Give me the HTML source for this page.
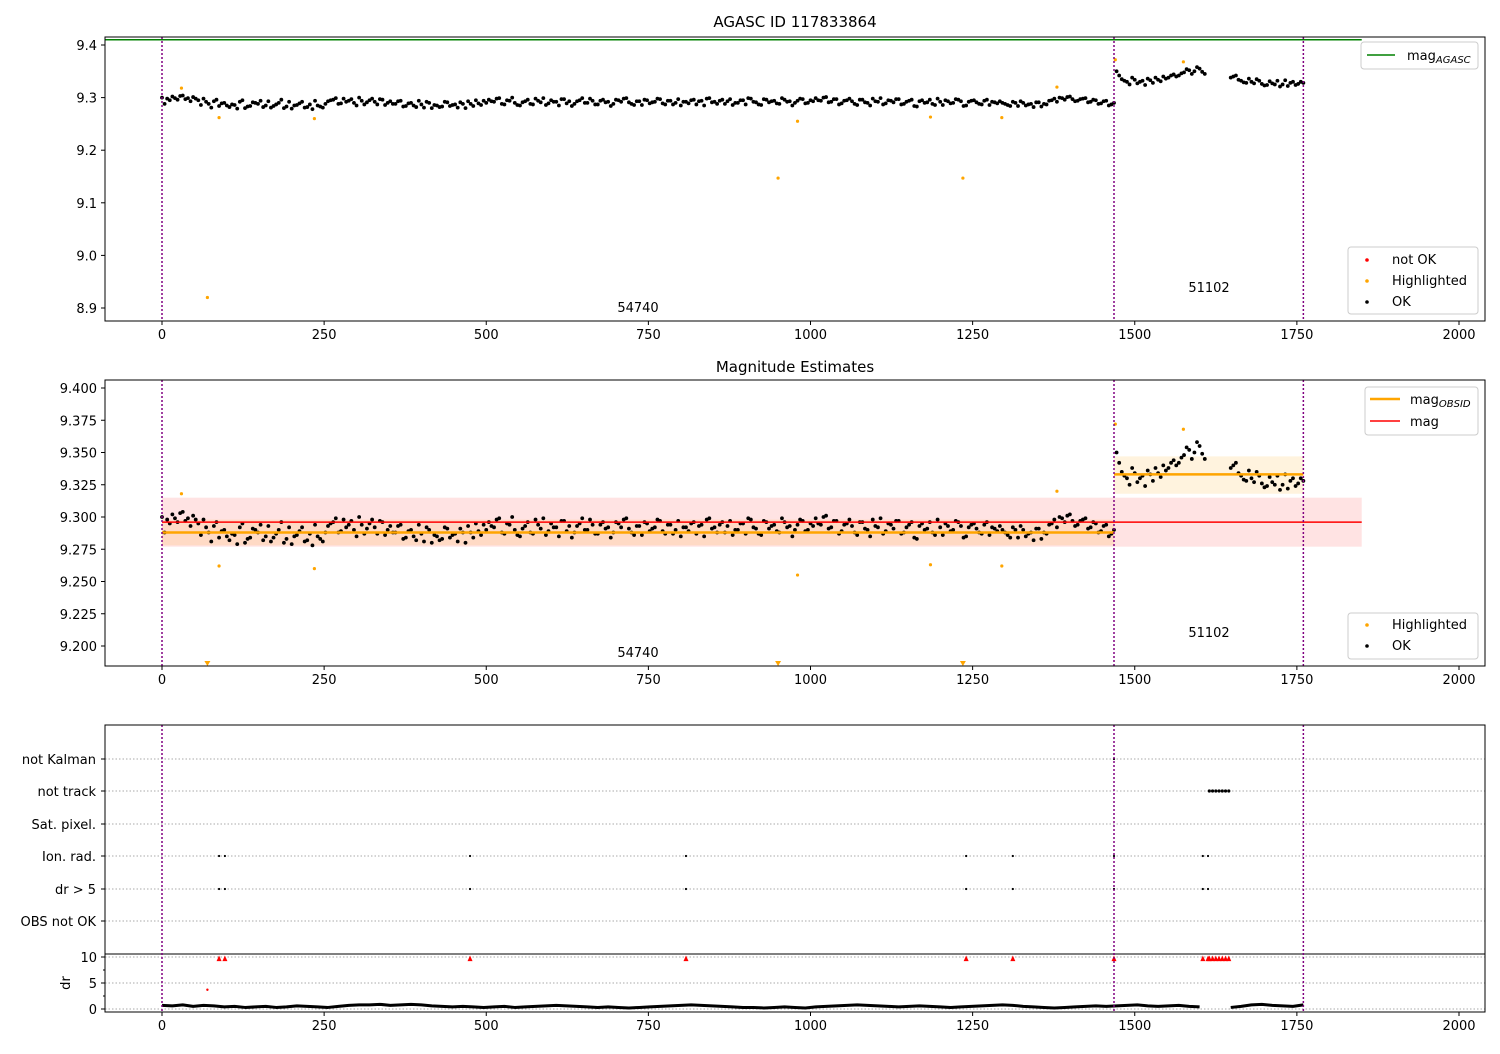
<!DOCTYPE html>
<html><head><meta charset="utf-8">
<style>
body{margin:0;background:#fff;font-family:"DejaVu Sans","Liberation Sans",sans-serif;}
svg text{font-family:"DejaVu Sans","Liberation Sans",sans-serif;font-size:13px;fill:#000;}
</style></head>
<body>
<svg id="chart" width="1500" height="1050" xmlns="http://www.w3.org/2000/svg"></svg>
<script>
// ---- data ----
const seg1Offsets = [10,8,12,6,14,9,11,5,8,-2,3,-6,0,-8,-4,2,-10,-6,0,4,-5,-9,-3,6,-7,-11,-4,2,-8,-12,-5,-9,3,6,-2,8,4,0,10,-3,5,2,7,-4,3,-2,4,-6,0,-8,-3,2,-10,-5,-7,1,-4,-9,-2,3,-6,-1,4,6,2,9,-3,4,0,-5,3,-2,8,1,-4,5,2,7,-1,-6,3,9,0,4,-3,6,2,-2,5,8,1,-4,3,6,-1,2,7,-3,4,0,-5,2,5,-3,4,8,1,-2,6,3,-4,0,5,9,2,-3,7,1,4,-2,6,3,0,8,-1,5,9,4,11,2,7,-1,5,3,-4,6,0,8,2,-3,5,1,7,-2,4,-6,3,0,6,-4,2,5,-1,7,3,-5,4,1,-3,6,2,-1,0,-4,2,-6,0,-3,-8,1,-2,4,8,10,6,12,3,7,9,2,5,-1,4,-3];
const seg1bOffsets = [-2,5,9,13,7,3,8,-4,2,-9,6,-1,-5,-3,-11,5,-7,1,-2,-8,3,-6,0,-10,2,-5,-1,-9,-3,4,-7,-2,5,9,-1,2,7,-5,4,1,8,-3,6,0,-2,3,-7,-1,-5,4,-9,0,-4,-8,2,-6,-3,1,-10,-2,5,-4,0,3,8,-2,5,10,-4,1,6,-3,4,9,-1,2,-5,7,3,-2,5,0,8,-3,4,1,-6,6,2,9,-2,3,-4,5,1,8,-1,4,-3,7,2,-1,6,3,-5,9,2,4,-2,7,0,5,-3,8,1,-4,6,3,-1,9,2,-5,4,7,0,3,5,10,1,7,-3,4,8,-2,6,1,-5,3,9,-1,4,7,-3,2,6,-7,5,1,-2,8,-4,3,0,6,-6,2,5,-2,4,-4,1,3,-2,-6,0,3,-5,-2,1,-7,-3,5,2,9,11,7,4,8,1,6,-2,3,-5,0];
const seg2aOffsets = [20,5,0,8,-3,2,6,-2,4,10,8,14,12,18,22,20,25,15];
const seg2abOffsets = [12,2,-5,4,0,-6,3,8,1,6,12,10,16,24,15,28,19];
const seg2bOffsets = [8,12,2,-2,0,5,-4,-6,-3,2,-5,-8,0,-4,-2];
const seg2bbOffsets = [10,4,-1,6,-3,2,-7,1,-5,-9,3,-2,-6,0];
const drSeg1 = [7,6,8,5,7,6,4,5,3,4,5,3,4,6,5,4,3,5,7,8,8,9,7,8,9,8,6,5,4,5,4,3,4,5,3,4,5,6,7,6,5,4,3,4,3,2,3,4,5,6,7,8,7,6,5,4,3,3,2,3,4,3,2,4,5,6,7,8,7,6,5,4,5,6,5,4,3,4,5,6,7,8,7,5,4,3,2,3,4,5,6,5];
const drSeg2a = [6,7,8,6,5,6,7,5,4];
const drSeg2b = [3,5,8,9,7,6,5,8];
const hlX = [30,70,88,235,950,980,1185,1235,1295,1380,1470,1575];
const hlY = [9.318,8.92,9.262,9.26,9.147,9.255,9.263,9.147,9.262,9.32,9.372,9.368];
const flagX = [88,97,475,808,1240,1312,1468,1605,1613];
const trackX = [1615,1620,1625,1630,1635,1640,1645];
const obsBounds = [0,1468,1760];
const obsIds = ["54740","51102"];
const segMag = [9.288,9.333];
const segLo = [9.278,9.318];
const segHi = [9.298,9.347];
const magMean = 9.296, magLo = 9.277, magHi = 9.315, magAgasc = 9.41;
const flagCats = ["not Kalman","not track","Sat. pixel.","Ion. rad.","dr > 5","OBS not OK"];
const xTicks = [0,250,500,750,1000,1250,1500,1750,2000];
const y1Ticks = [9.4,9.3,9.2,9.1,9.0,8.9];
const y2Ticks = [9.4,9.375,9.35,9.325,9.3,9.275,9.25,9.225,9.2];
const drTicks = [0,5,10];
const drMinor = [2.5,7.5];

// ---- helpers ----
const svg = document.getElementById('chart');
const NS = 'http://www.w3.org/2000/svg';
function mk(tag, attrs, parent){const e=document.createElementNS(NS,tag);for(const k in attrs)e.setAttribute(k,attrs[k]);(parent||svg).appendChild(e);return e;}
const X = v => 162 + v*0.6485;
const Y1 = v => 45 + (9.4 - v)*526;
const Y2 = v => 388 + (9.4 - v)*1290;
const YD = v => 1009 - v*5.2;
const catY = [759,791,824,856,889,921];

const pts = [];
seg1Offsets.forEach((o,i)=>pts.push([i*8, 9.29 + o/1000]));
seg1bOffsets.forEach((o,i)=>pts.push([i*8+4, 9.29 + o/1000]));
seg2aOffsets.forEach((o,i)=>pts.push([1472+i*8, 9.33 + o/1000]));
seg2abOffsets.forEach((o,i)=>pts.push([1476+i*8, 9.33 + o/1000]));
seg2bOffsets.forEach((o,i)=>pts.push([1648+i*8, 9.33 + o/1000]));
seg2bbOffsets.forEach((o,i)=>pts.push([1652+i*8, 9.33 + o/1000]));
const drA = drSeg1.map((o,i)=>[i*16, o/10]).concat(drSeg2a.map((o,i)=>[1472+i*16, o/10]));
const drB = drSeg2b.map((o,i)=>[1648+i*16, o/10]);

function axesBox(top,bottom,name){
  const r = mk('rect',{x:105,y:top,width:1380,height:bottom-top,fill:'none',stroke:'#000','stroke-width':1});
  
  
}
function xAxis(bottom,name){
  const g = mk('g',{});
  
  
  xTicks.forEach(t=>{
    mk('line',{x1:X(t),x2:X(t),y1:bottom,y2:bottom+4,stroke:'#000'},g);
    const tx = mk('text',{x:X(t),y:bottom+18,'text-anchor':'middle'},g); tx.textContent=t;
  });
}
function vlines(top,bottom){
  obsBounds.forEach(b=>{
    const l = mk('line',{x1:X(b),x2:X(b),y1:top,y2:bottom,stroke:'#800080','stroke-width':1.5,'stroke-dasharray':'2,2'});
    
    
  });
}

// ---- Panel 1 ----
let t = mk('text',{x:795,y:27,'text-anchor':'middle'}); t.textContent='AGASC ID 117833864'; t.style.fontSize='15px';
 
let l = mk('line',{x1:105,x2:X(1850),y1:Y1(magAgasc),y2:Y1(magAgasc),stroke:'green','stroke-width':1.5});
 
y1Ticks.forEach(v=>{
  mk('line',{x1:101,x2:105,y1:Y1(v),y2:Y1(v),stroke:'#000'});
  const tx=mk('text',{x:97,y:Y1(v)+5,'text-anchor':'end'}); tx.textContent=v.toFixed(1);
});
pts.forEach(p=>{
  const c=mk('circle',{cx:X(p[0]),cy:Y1(p[1]),r:1.9,fill:'#000'});
   
});
hlX.forEach((x,i)=>{
  const c=mk('circle',{cx:X(x),cy:Y1(hlY[i]),r:1.6,fill:'orange'});
   
});
vlines(37,321);
t=mk('text',{x:638,y:312,'text-anchor':'middle'}); t.textContent=obsIds[0];
 
t=mk('text',{x:1209,y:292,'text-anchor':'middle'}); t.textContent=obsIds[1];
 
axesBox(37,321,'panel1-axes'); xAxis(321,'panel1-x-axis');
let g = mk('g',{});  
mk('rect',{x:1361,y:42,width:117,height:27,rx:3,fill:'#fff',stroke:'#ccc'},g);
mk('line',{x1:1367,x2:1395,y1:55,y2:55,stroke:'green','stroke-width':1.5},g);
t=mk('text',{x:1407,y:60},g); t.innerHTML='mag<tspan font-size="10" font-style="italic" dy="3">AGASC</tspan>';
g = mk('g',{});  
mk('rect',{x:1348,y:247,width:130,height:67,rx:3,fill:'#fff',stroke:'#ccc'},g);
[['red','not OK',260],['orange','Highlighted',281],['#000','OK',302]].forEach(e=>{
  mk('circle',{cx:1367,cy:e[2],r:1.8,fill:e[0]},g);
  const tx=mk('text',{x:1392,y:e[2]+4},g); tx.textContent=e[1];
});

// ---- Panel 2 ----
t = mk('text',{x:795,y:372,'text-anchor':'middle'}); t.textContent='Magnitude Estimates'; t.style.fontSize='15px';
 
let r = mk('rect',{x:X(0),y:Y2(magHi),width:X(1850)-X(0),height:Y2(magLo)-Y2(magHi),fill:'rgba(255,0,0,0.11)'});
 
[[0,1468],[1468,1760]].forEach((s,i)=>{
  const b=mk('rect',{x:X(s[0]),y:Y2(segHi[i]),width:X(s[1])-X(s[0]),height:Y2(segLo[i])-Y2(segHi[i]),fill:'rgba(255,165,0,0.13)'});
   
});
y2Ticks.forEach(v=>{
  mk('line',{x1:101,x2:105,y1:Y2(v),y2:Y2(v),stroke:'#000'});
  const tx=mk('text',{x:97,y:Y2(v)+5,'text-anchor':'end'}); tx.textContent=v.toFixed(3);
});
pts.forEach(p=>{
  const c=mk('circle',{cx:X(p[0]),cy:Y2(p[1]),r:1.9,fill:'#000'});
   
});
hlX.forEach((x,i)=>{
  if(hlY[i]<9.185){
    const tr=mk('path',{d:`M${X(x)-3},661 L${X(x)+3},661 L${X(x)},666 Z`,fill:'orange'});
     
  } else {
    const c=mk('circle',{cx:X(x),cy:Y2(hlY[i]),r:1.6,fill:'orange'});
     
  }
});
[[0,1468],[1468,1760]].forEach((s,i)=>{
  const ln=mk('line',{x1:X(s[0]),x2:X(s[1]),y1:Y2(segMag[i]),y2:Y2(segMag[i]),stroke:'orange','stroke-width':2.5});
   
});
l = mk('line',{x1:X(0),x2:X(1850),y1:Y2(magMean),y2:Y2(magMean),stroke:'red','stroke-width':1.5});
 
vlines(380,666);
t=mk('text',{x:638,y:657,'text-anchor':'middle'}); t.textContent=obsIds[0];
 
t=mk('text',{x:1209,y:637,'text-anchor':'middle'}); t.textContent=obsIds[1];
 
axesBox(380,666,'panel2-axes'); xAxis(666,'panel2-x-axis');
g = mk('g',{});  
mk('rect',{x:1365,y:387,width:113,height:48,rx:3,fill:'#fff',stroke:'#ccc'},g);
mk('line',{x1:1370,x2:1400,y1:399,y2:399,stroke:'orange','stroke-width':2.5},g);
t=mk('text',{x:1410,y:404},g); t.innerHTML='mag<tspan font-size="10" font-style="italic" dy="3">OBSID</tspan>';
mk('line',{x1:1370,x2:1400,y1:421,y2:421,stroke:'red','stroke-width':1.5},g);
t=mk('text',{x:1410,y:426},g); t.textContent='mag';
g = mk('g',{});  
mk('rect',{x:1348,y:613,width:130,height:46,rx:3,fill:'#fff',stroke:'#ccc'},g);
[['orange','Highlighted',625],['#000','OK',646]].forEach(e=>{
  mk('circle',{cx:1367,cy:e[2],r:1.8,fill:e[0]},g);
  const tx=mk('text',{x:1392,y:e[2]+4},g); tx.textContent=e[1];
});

// ---- Panel 3 ----
flagCats.forEach((c,i)=>{
  const gl=mk('line',{x1:105,x2:1485,y1:catY[i],y2:catY[i],stroke:'#aaa','stroke-dasharray':'1.5,2'});
   
  mk('line',{x1:101,x2:105,y1:catY[i],y2:catY[i],stroke:'#000'});
  const tx=mk('text',{x:96,y:catY[i]+5,'text-anchor':'end'}); tx.textContent=c;
   
});
[3,4].forEach(ci=>flagX.forEach(x=>{
  const c=mk('circle',{cx:X(x),cy:catY[ci],r:1.1,fill:'#000'});
   
}));
trackX.forEach(x=>{
  const c=mk('circle',{cx:X(x),cy:catY[1],r:1.6,fill:'#000'});
   
});
let c0=mk('circle',{cx:X(1468),cy:catY[0],r:1.1,fill:'#000'});
 
mk('line',{x1:105,x2:1485,y1:954,y2:954,stroke:'#000'});
[10,5,0].forEach(v=>mk('line',{x1:105,x2:1485,y1:YD(v),y2:YD(v),stroke:'#aaa','stroke-dasharray':'1.5,2'}));
drTicks.forEach(v=>{
  mk('line',{x1:101,x2:105,y1:YD(v),y2:YD(v),stroke:'#000'});
  const tx=mk('text',{x:97,y:YD(v)+5,'text-anchor':'end'}); tx.textContent=v;
});
drMinor.forEach(v=>mk('line',{x1:103,x2:105,y1:YD(v),y2:YD(v),stroke:'#000'}));
t=mk('text',{x:70,y:983,'text-anchor':'middle',transform:'rotate(-90 70 983)'}); t.textContent='dr';
 
[drA,drB].forEach(arr=>{
  const pl=mk('polyline',{points:arr.map(p=>X(p[0])+','+YD(p[1])).join(' '),fill:'none',stroke:'#000','stroke-width':3,'stroke-linejoin':'round'});
   
});
flagX.concat(trackX).forEach(x=>{
  const tr=mk('path',{d:`M${X(x)-2.5},${YD(9.2)} L${X(x)+2.5},${YD(9.2)} L${X(x)},${YD(10.3)} Z`,fill:'red'});
   
});
let c1=mk('circle',{cx:X(70),cy:YD(3.7),r:1.2,fill:'red'});
 
vlines(725,1012);
axesBox(725,1012,'panel3-axes'); xAxis(1012,'panel3-x-axis');
</script>
</body></html>
